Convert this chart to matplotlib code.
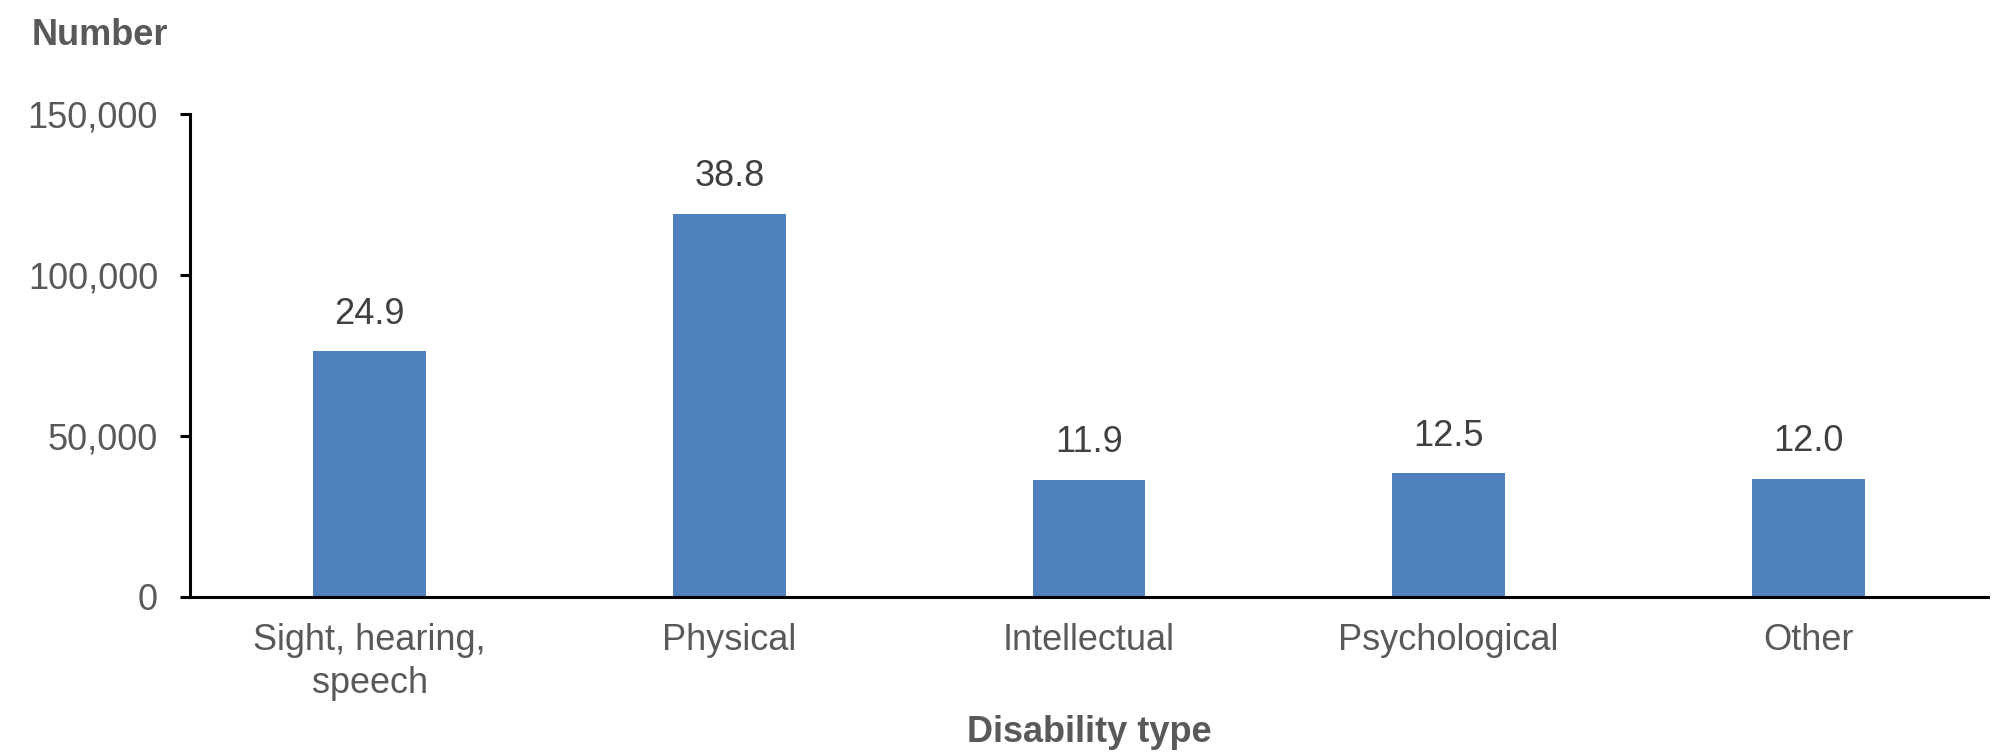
import matplotlib.pyplot as plt
import matplotlib.ticker as mticker

plt.rcParams['font.family'] = ['Liberation Sans', 'DejaVu Sans']

#chart data
categories = ['Sight, hearing,\nspeech', 'Physical', 'Intellectual', 'Psychological', 'Other']
counts = [76300, 118900, 36300, 38400, 36600]
percent_labels = ['24.9', '38.8', '11.9', '12.5', '12.0']
y_ticks = [0, 50000, 100000, 150000]

bar_colour = '#4F81BD'
grey_text = '#595959'
dark_text = '#404040'

fig = plt.figure(figsize=(20.11, 7.56), dpi=100)
ax = fig.add_axes([190/2011, 1-597/756, (1988-190)/2011, (597-114)/756])

x = range(len(categories))
bars = ax.bar(x, counts, width=0.314, color=bar_colour, zorder=2)

#percentage labels above each bar
for b, lab in zip(bars, percent_labels):
    ax.annotate(lab, (b.get_x() + b.get_width()/2, b.get_height()),
                xytext=(0, 20), textcoords='offset points',
                ha='center', va='baseline', fontsize=26, color=dark_text)

ax.set_xlim(-0.5, len(categories) - 0.5)
ax.set_ylim(0, 150000)
ax.set_yticks(y_ticks)
ax.yaxis.set_major_formatter(mticker.FuncFormatter(lambda v, p: '{:,.0f}'.format(v)))
ax.set_xticks(list(x))
ax.set_xticklabels(categories, linespacing=1.3)

for s in ['top', 'right']:
    ax.spines[s].set_visible(False)
for s in ['left', 'bottom']:
    ax.spines[s].set_linewidth(2.2)
    ax.spines[s].set_color('black')

ax.tick_params(axis='y', length=7, width=2.2, pad=16, labelsize=26, labelcolor=grey_text)
ax.tick_params(axis='x', length=0, pad=19, labelsize=26, labelcolor=grey_text)

ax.set_xlabel('Disability type', fontsize=26, fontweight='bold', color=grey_text)
ax.xaxis.set_label_coords(0.5, -(742-597)/483)
ax.xaxis.label.set_va('baseline')

fig.text(32/2011, 1-45/756, 'Number', fontsize=26, fontweight='bold',
         color=grey_text, ha='left', va='baseline')

fig.savefig('out.png', dpi=100)
